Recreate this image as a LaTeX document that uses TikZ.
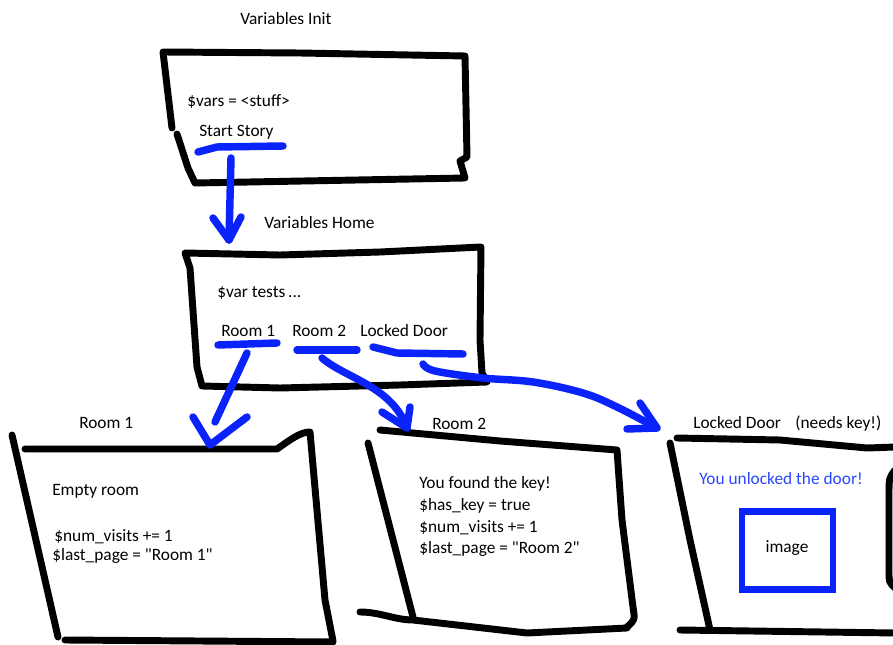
\documentclass[tikz,border=0pt]{standalone}
\usepackage{fontspec}
\setmainfont{Carlito}
\definecolor{penblue}{RGB}{10,35,250}
\definecolor{txtblue}{RGB}{40,70,255}
\begin{document}
\begin{tikzpicture}[x=0.75pt,y=-0.75pt,
  ink/.style={draw=black,line width=5.2pt,line cap=round,line join=round},
  pen/.style={draw=penblue,line width=5.6pt,line cap=round,line join=round},
  txt/.style={anchor=base west,inner sep=0pt,font=\fontsize{13}{15}\selectfont}]
\useasboundingbox (0,0) rectangle (893,645);

% ---------- Box 1: Variables Init ----------
\draw[ink] (172,128) -- (163,52) -- (300,53) -- (465,56) -- (467,157) -- (460,161) -- (465,178) -- (195,183) -- (188,168) -- (177,134);
\node[txt] (t1) at (240,25) {Variables Init};
\node[txt] (t1a) at (187,107) {\$vars = <stuff>};
\node[txt] (t1b) at (199,137) {Start Story};
\draw[pen] (198,152) -- (217,147) -- (283,146);

% ---------- Box 2: Variables Home ----------
\draw[ink] (202,386) -- (197,367) -- (190,268) -- (185,253) -- (280,255) -- (380,252) -- (481,247) -- (480,340) -- (482,373) -- (487,382) -- (400,385) -- (280,388) -- cycle;
\node[txt] (t2) at (264,229) {Variables Home};
\node[txt] (t2a) at (217,298) {\$var tests\,...};
\node[txt] (t2b) at (221,337) {Room 1};
\node[txt] (t2c) at (292,337) {Room 2};
\node[txt] (t2d) at (360,337) {Locked Door};
\draw[pen] (218,345) -- (277,343);
\draw[pen] (297,350) -- (357,350);
\draw[pen] (373,347) -- (397,353) -- (463,354);

% ---------- Box 3: Room 1 ----------
\draw[ink] (25,449) -- (277,449) .. controls (290,440) and (300,432) .. (310,432) -- (325,600) -- (333,641);
\draw[ink] (12,435) -- (58,637);
\draw[ink] (65,640) -- (333,642);
\node[txt] (t3) at (79,428) {Room 1};
\node[txt] (t3a) at (52,495) {Empty room};
\node[txt] (t3b) at (54,541) {\$num\_visits += 1};
\node[txt] (t3c) at (52,560) {\$last\_page = \textquotedbl Room 1\textquotedbl};

% ---------- Box 4: Room 2 ----------
\draw[ink] (380,430) -- (500,441) -- (617,450) -- (622,520) -- (633,607) .. controls (635,620) .. (627,627);
\draw[ink] (368,443) -- (413,617);
\draw[ink] (360,612) .. controls (380,612) and (395,620) .. (413,620) -- (527,633) -- (627,628);
\node[txt] (t4) at (432,430) {Room 2};
\node[txt] (t4a) at (419,488) {You found the key!};
\node[txt] (t4b) at (419,510) {\$has\_key = true};
\node[txt] (t4c) at (419,532) {\$num\_visits += 1};
\node[txt] (t4d) at (419,553) {\$last\_page = \textquotedbl Room 2\textquotedbl};

% ---------- Box 5: Locked Door ----------
\draw[ink] (677,438) -- (780,440) -- (867,448) -- (895,447);
\draw[ink] (670,443) -- (690,540) -- (710,630);
\draw[ink] (680,630) -- (895,633);
\draw[ink] (895,470) .. controls (889,478) .. (889,495) -- (889,572) .. controls (889,582) .. (895,588);
\node[txt] (t5) at (693,428) {Locked Door};
\node[txt] (t5b) at (795,428) {(needs key!)};
\node[txt,text=txtblue] (t5a) at (699,484) {You unlocked the door!};
\node[draw=penblue,line width=4.6pt,minimum width=90.5*0.75pt,minimum height=78*0.75pt,inner sep=0pt] (img) at (787.5,550.5) {};
\node[inner sep=0pt,anchor=base,font=\fontsize{13}{15}\selectfont] (imgt) at (787,552) {image};

% ---------- Arrows ----------
\coordinate (a1) at (231,158); \coordinate (a2) at (229,240);
\coordinate (ah1) at (213,218); \coordinate (ah2) at (241,217);
\draw[pen] (a1) -- (a2);
\draw[pen] (ah1) -- (a2) -- (ah2);

\coordinate (b1) at (247,353); \coordinate (b2) at (215,422); \coordinate (bt) at (210,445);
\coordinate (bh1) at (193,417); \coordinate (bh2) at (247,417);
\draw[pen] (b1) -- (b2);
\draw[pen] (bh1) -- (bt) -- (bh2);

\coordinate (c1) at (322,358); \coordinate (ct) at (407,428);
\coordinate (ch1) at (382,412); \coordinate (ch2) at (410,407);
\draw[pen] (c1) .. controls (345,378) and (392,386) .. (ct);
\draw[pen] (ch1) -- (ct) -- (ch2);

\coordinate (d1) at (423,364); \coordinate (dt) at (657,428);
\coordinate (dh1) at (640,403); \coordinate (dh2) at (627,429);
\draw[pen] plot[smooth,tension=0.6] coordinates {(423,364) (435,371) (483,378) (533,382) (583,393) (617,407) (657,428)};
\draw[pen] (dh1) -- (dt) -- (dh2);
\end{tikzpicture}
\end{document}
